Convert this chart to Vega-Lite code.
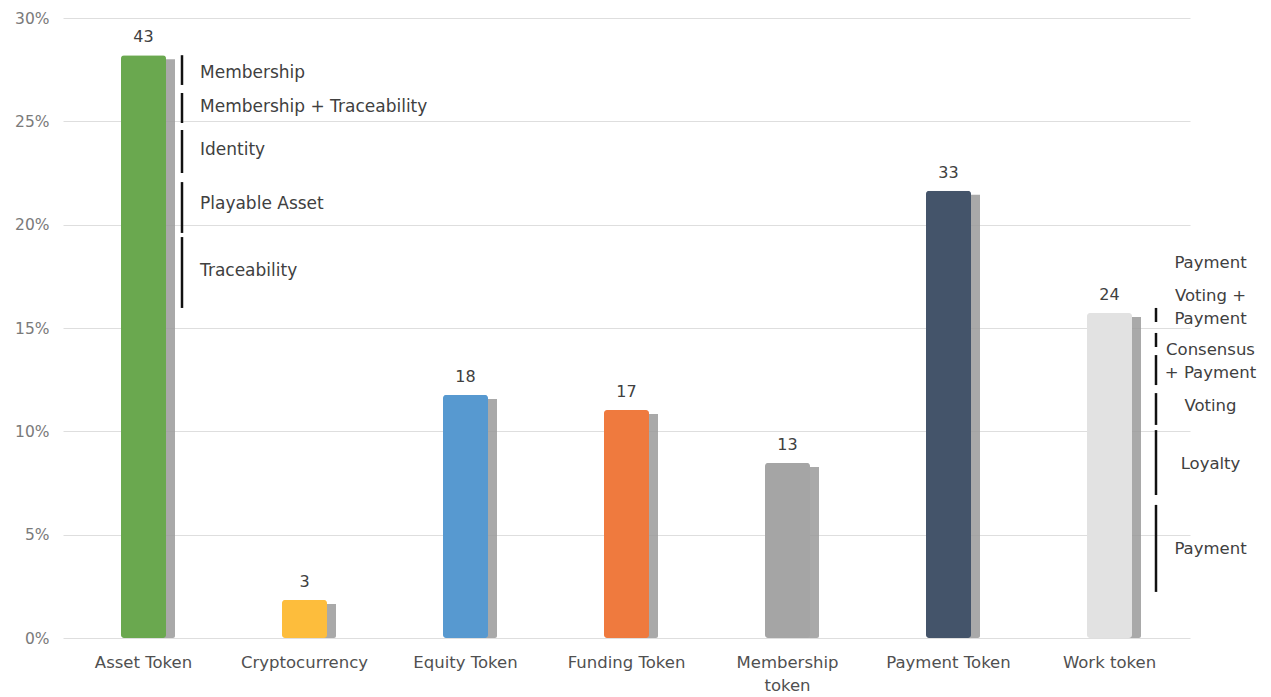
{
  "$schema": "https://vega.github.io/schema/vega-lite/v6.json",
  "width": 1127,
  "height": 620,
  "autosize": {"type": "none"},
  "padding": {"left": 63, "top": 18, "right": 81, "bottom": 59},
  "background": "white",
  "config": {
    "view": {"stroke": null},
    "font": "DejaVu Sans",
    "axis": {"labelFont": "DejaVu Sans", "labelColor": "#595959"}
  },
  "datasets": {
    "bars": [
      {"token": "Asset Token", "count": 43, "pct": 28.2, "color": "#6aa84f"},
      {"token": "Cryptocurrency", "count": 3, "pct": 1.84, "color": "#fdbd3c"},
      {"token": "Equity Token", "count": 18, "pct": 11.76, "color": "#5799d0"},
      {"token": "Funding Token", "count": 17, "pct": 11.03, "color": "#ef7a3e"},
      {"token": "Membership token", "count": 13, "pct": 8.47, "color": "#a5a5a5"},
      {"token": "Payment Token", "count": 33, "pct": 21.64, "color": "#44546a"},
      {"token": "Work token", "count": 24, "pct": 15.72, "color": "#e2e2e2"}
    ],
    "assetSegs": [
      {"token": "Asset Token", "from": 28.2, "to": 26.76, "label": "Membership", "ly": 27.34},
      {"token": "Asset Token", "from": 26.37, "to": 24.92, "label": "Membership + Traceability", "ly": 25.69},
      {"token": "Asset Token", "from": 24.58, "to": 22.5, "label": "Identity", "ly": 23.61},
      {"token": "Asset Token", "from": 22.06, "to": 19.6, "label": "Playable Asset", "ly": 21.0},
      {"token": "Asset Token", "from": 19.4, "to": 15.97, "label": "Traceability", "ly": 17.76}
    ],
    "workSegs": [
      {"token": "Work token", "from": 15.97, "to": 15.29},
      {"token": "Work token", "from": 14.76, "to": 14.08},
      {"token": "Work token", "from": 13.69, "to": 12.24},
      {"token": "Work token", "from": 11.85, "to": 10.31},
      {"token": "Work token", "from": 10.06, "to": 6.92},
      {"token": "Work token", "from": 6.44, "to": 2.23}
    ],
    "workLabels": [
      {"token": "Work token", "label": "Payment", "ly": 18.14},
      {"token": "Work token", "label": "Voting +", "ly": 16.55},
      {"token": "Work token", "label": "Payment", "ly": 15.44},
      {"token": "Work token", "label": "Consensus", "ly": 13.94},
      {"token": "Work token", "label": "+ Payment", "ly": 12.82},
      {"token": "Work token", "label": "Voting", "ly": 11.23},
      {"token": "Work token", "label": "Loyalty", "ly": 8.42},
      {"token": "Work token", "label": "Payment", "ly": 4.31}
    ]
  },
  "encoding": {
    "x": {
      "field": "token",
      "type": "nominal",
      "sort": null,
      "scale": {"paddingInner": 0.72, "paddingOuter": 0.36},
      "axis": {
        "title": null,
        "labelAngle": 0,
        "labelFontSize": 16.5,
        "labelPadding": 16,
        "labelLineHeight": 23,
        "labelColor": "#505050",
        "ticks": false,
        "domain": false,
        "labelExpr": "datum.label == 'Membership token' ? ['Membership', 'token'] : datum.label"
      }
    }
  },
  "layer": [
    {
      "data": {"name": "bars"},
      "mark": {"type": "bar", "width": 45, "xOffset": 9, "yOffset": 4, "color": "#9a9a9a", "opacity": 0.85, "cornerRadius": 2},
      "encoding": {
        "y": {
          "field": "pct",
          "type": "quantitative",
          "scale": {"domain": [0, 30]},
          "axis": {
            "title": null,
            "values": [0, 5, 10, 15, 20, 25, 30],
            "labelExpr": "datum.value + '%'",
            "labelFontSize": 15.5,
            "labelColor": "#7a7a7a",
            "labelPadding": 14,
            "ticks": false,
            "domain": false,
            "gridColor": "#dedede",
            "gridWidth": 1
          }
        }
      }
    },
    {
      "data": {"name": "bars"},
      "mark": {"type": "bar", "width": 45, "cornerRadius": 3},
      "encoding": {
        "y": {"field": "pct", "type": "quantitative"},
        "color": {"field": "color", "type": "nominal", "scale": null, "legend": null}
      }
    },
    {
      "data": {"name": "bars"},
      "mark": {"type": "text", "dy": -18, "fontSize": 16, "color": "#404040", "baseline": "middle"},
      "encoding": {
        "y": {"field": "pct", "type": "quantitative"},
        "text": {"field": "count", "type": "quantitative"}
      }
    },
    {
      "data": {"name": "assetSegs"},
      "mark": {"type": "rule", "xOffset": 38.5, "strokeWidth": 2.5, "color": "#111111"},
      "encoding": {
        "y": {"field": "from", "type": "quantitative"},
        "y2": {"field": "to"}
      }
    },
    {
      "data": {"name": "assetSegs"},
      "mark": {"type": "text", "xOffset": 56.5, "align": "left", "baseline": "middle", "fontSize": 17, "color": "#404040"},
      "encoding": {
        "y": {"field": "ly", "type": "quantitative"},
        "text": {"field": "label"}
      }
    },
    {
      "data": {"name": "workSegs"},
      "mark": {"type": "rule", "xOffset": 46.5, "strokeWidth": 2.5, "color": "#111111"},
      "encoding": {
        "y": {"field": "from", "type": "quantitative"},
        "y2": {"field": "to"}
      }
    },
    {
      "data": {"name": "workLabels"},
      "mark": {"type": "text", "xOffset": 101, "align": "center", "baseline": "middle", "fontSize": 16.5, "color": "#404040"},
      "encoding": {
        "y": {"field": "ly", "type": "quantitative"},
        "text": {"field": "label"}
      }
    }
  ]
}
